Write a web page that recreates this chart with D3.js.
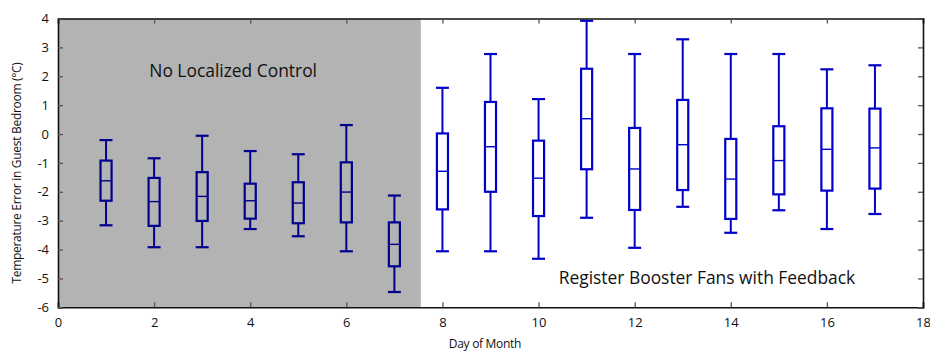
<!DOCTYPE html>
<html>
<head>
<meta charset="utf-8">
<script src="https://cdn.jsdelivr.net/npm/d3@7"></script>
<style>
  html, body { margin: 0; padding: 0; background: #fff; }
  svg { display: block; font-family: "Open Sans", "DejaVu Sans", sans-serif; }
</style>
</head>
<body>
<svg id="chart" width="930" height="351"></svg>
<script>
// Daily temperature error distribution (°C) in the guest bedroom
const days      = [1, 2, 3, 4, 5, 6, 7, 8, 9, 10, 11, 12, 13, 14, 15, 16, 17];
const whiskerHi = [-0.21, -0.84, -0.06, -0.59, -0.70, 0.31, -2.13, 1.60, 2.77, 1.21, 3.92, 2.77, 3.28, 2.77, 2.77, 2.24, 2.38];
const q3        = [-0.92, -1.52, -1.32, -1.72, -1.67, -0.98, -3.06, 0.02, 1.11, -0.23, 2.26, 0.21, 1.18, -0.17, 0.27, 0.89, 0.88];
const medians   = [-1.62, -2.34, -2.16, -2.31, -2.39, -2.01, -3.82, -1.29, -0.44, -1.53, 0.53, -1.21, -0.37, -1.56, -0.92, -0.53, -0.48];
const q1        = [-2.31, -3.18, -3.01, -2.93, -3.09, -3.06, -4.58, -2.61, -2.00, -2.84, -1.22, -2.63, -1.94, -2.94, -2.09, -1.96, -1.89];
const whiskerLo = [-3.16, -3.92, -3.92, -3.29, -3.54, -4.06, -5.47, -4.06, -4.06, -4.32, -2.90, -3.94, -2.52, -3.42, -2.64, -3.29, -2.77];

const xTicks = [0, 2, 4, 6, 8, 10, 12, 14, 16, 18];
const yTicks = [-6, -5, -4, -3, -2, -1, 0, 1, 2, 3, 4];
const controlEnd = 7.55;   // last day without localized control (shaded)

const regionLabels = [
  { text: "No Localized Control", x: 1.9, y: 1.96 },
  { text: "Register Booster Fans with Feedback", x: 10.42, y: -5.18 }
];

const rows = days.map((d, i) => ({
  day: d, hi: whiskerHi[i], q3: q3[i], med: medians[i], q1: q1[i], lo: whiskerLo[i]
}));

const svg = d3.select("#chart");
const plotLeft = 58, plotRight = 923, plotTop = 18.5, plotBottom = 307.3;

const x = d3.scaleLinear().domain([0, 18]).range([plotLeft, plotRight]);
const y = d3.scaleLinear().domain([-6, 4]).range([plotBottom, plotTop]);

const blue = "#0000c8";
const boxHalf = 0.135;

// boxes and whiskers
const g = svg.append("g");
const box = g.selectAll("g.box").data(rows).join("g").attr("class", "box")
  .attr("stroke", blue).attr("fill", "none");

box.append("line")
  .attr("x1", d => x(d.day)).attr("x2", d => x(d.day))
  .attr("y1", d => y(d.hi)).attr("y2", d => y(d.q3))
  .attr("stroke-width", 2);
box.append("line")
  .attr("x1", d => x(d.day)).attr("x2", d => x(d.day))
  .attr("y1", d => y(d.q1)).attr("y2", d => y(d.lo))
  .attr("stroke-width", 2);
box.append("line")
  .attr("x1", d => x(d.day - boxHalf)).attr("x2", d => x(d.day + boxHalf))
  .attr("y1", d => y(d.hi)).attr("y2", d => y(d.hi))
  .attr("stroke-width", 2.2);
box.append("line")
  .attr("x1", d => x(d.day - boxHalf)).attr("x2", d => x(d.day + boxHalf))
  .attr("y1", d => y(d.lo)).attr("y2", d => y(d.lo))
  .attr("stroke-width", 2.2);
box.append("rect")
  .attr("x", d => x(d.day - boxHalf + 0.02))
  .attr("width", d => x(d.day + boxHalf - 0.02) - x(d.day - boxHalf + 0.02))
  .attr("y", d => y(d.q3))
  .attr("height", d => y(d.q1) - y(d.q3))
  .attr("stroke-width", 2.2);
box.append("line")
  .attr("x1", d => x(d.day - boxHalf + 0.02)).attr("x2", d => x(d.day + boxHalf - 0.02))
  .attr("y1", d => y(d.med)).attr("y2", d => y(d.med))
  .attr("stroke-width", 1.4);

// shaded period without localized control (translucent overlay)
svg.append("rect")
  .attr("x", x(0)).attr("y", y(4))
  .attr("width", x(controlEnd) - x(0))
  .attr("height", y(-6) - y(4))
  .attr("fill", "#000").attr("fill-opacity", 0.298);

// region annotations
svg.selectAll("text.region").data(regionLabels).join("text")
  .attr("class", "region")
  .attr("x", d => x(d.x)).attr("y", d => y(d.y))
  .attr("font-size", 17.4).attr("fill", "#111")
  .text(d => d.text);

// axes with inward ticks, mirrored on top and right
const tickLen = 5;
const plain = d => String(d);
const axB = svg.append("g").attr("transform", `translate(0,${plotBottom})`)
  .call(d3.axisBottom(x).tickValues(xTicks).tickSize(-tickLen).tickPadding(10).tickFormat(plain));
const axT = svg.append("g").attr("transform", `translate(0,${plotTop})`)
  .call(d3.axisTop(x).tickValues(xTicks).tickSize(-tickLen).tickFormat(""));
const axL = svg.append("g").attr("transform", `translate(${plotLeft},0)`)
  .call(d3.axisLeft(y).tickValues(yTicks).tickSize(-tickLen).tickPadding(9).tickFormat(plain));
const axR = svg.append("g").attr("transform", `translate(${plotRight},0)`)
  .call(d3.axisRight(y).tickValues(yTicks).tickSize(-tickLen).tickFormat(""));

[axB, axT, axL, axR].forEach(a => {
  a.select(".domain").attr("stroke", "#111").attr("stroke-width", 1.6);
  a.selectAll(".tick line").attr("stroke", "#555").attr("stroke-width", 1.3);
  a.selectAll(".tick text").attr("font-size", 13).attr("fill", "#111")
    .attr("font-family", "'Open Sans', 'DejaVu Sans', sans-serif");
});

// axis titles
svg.append("text")
  .attr("x", 485).attr("y", 348)
  .attr("text-anchor", "middle").attr("font-size", 12).attr("fill", "#111")
  .attr("letter-spacing", "-0.3")
  .text("Day of Month");
svg.append("text")
  .attr("transform", "translate(21,173) rotate(-90)")
  .attr("text-anchor", "middle").attr("font-size", 12).attr("fill", "#111")
  .attr("letter-spacing", "-0.3")
  .text("Temperature Error in Guest Bedroom (°C)");
</script>
</body>
</html>
